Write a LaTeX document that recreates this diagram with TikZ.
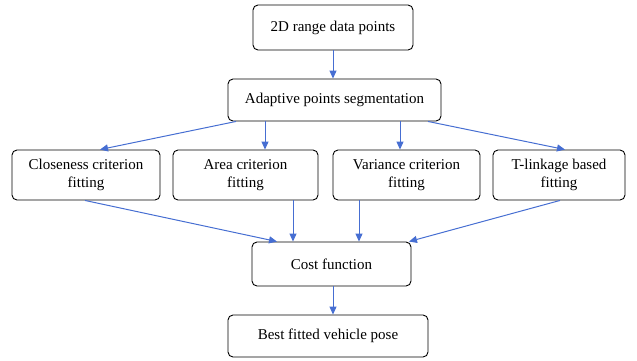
\documentclass[tikz,border=0pt]{standalone}
\usepackage{fontspec}
\setmainfont{Liberation Serif}
\usetikzlibrary{arrows.meta}
\definecolor{arrowblue}{RGB}{70,110,210}
\tikzset{
  box/.style={draw=black, line width=0.9pt, rounded corners=5pt, align=center, font=\fontsize{15}{18}\selectfont, inner sep=0pt},
  conn/.style={draw=arrowblue, line width=1pt, -{Triangle[length=8pt,width=7pt]}}
}
\begin{document}
\begin{tikzpicture}[x=1pt,y=-1pt]
\useasboundingbox (0,0) rectangle (637,360);
\node[box, minimum width=160pt, minimum height=45pt] (a) at (333,27.5) {2D range data points};
\node[box, minimum width=213pt, minimum height=42pt] (b) at (334.5,100) {Adaptive points segmentation};
\node[box, minimum width=148pt, minimum height=50pt] (c1) at (86,175) {Closeness criterion\\fitting};
\node[box, minimum width=145pt, minimum height=50pt] (c2) at (245.5,175) {Area criterion\\fitting};
\node[box, minimum width=147pt, minimum height=50pt] (c3) at (406.5,175) {Variance criterion\\fitting};
\node[box, minimum width=132pt, minimum height=50pt] (c4) at (559,175) {T-linkage based\\fitting};
\node[box, minimum width=159pt, minimum height=44pt] (d) at (331.5,264) {Cost function};
\node[box, minimum width=200pt, minimum height=42pt] (e) at (328,336) {Best fitted vehicle pose};
\draw[conn] (a.south -| 333,0) -- (b.north -| 333,0);
\draw[conn] (b.south -| 236,0) -- (c1.north -| 100,0);
\draw[conn] (b.south -| 265,0) -- (c2.north -| 265,0);
\draw[conn] (b.south -| 400,0) -- (c3.north -| 400,0);
\draw[conn] (b.south -| 428,0) -- (c4.north -| 565,0);
\draw[conn] (c1.south -| 85,0) -- (d.north -| 277,0);
\draw[conn] (c2.south -| 293,0) -- (d.north -| 293,0);
\draw[conn] (c3.south -| 359,0) -- (d.north -| 359,0);
\draw[conn] (c4.south -| 560,0) -- (d.north -| 409,0);
\draw[conn] (d.south -| 333,0) -- (e.north -| 333,0);
\end{tikzpicture}
\end{document}
